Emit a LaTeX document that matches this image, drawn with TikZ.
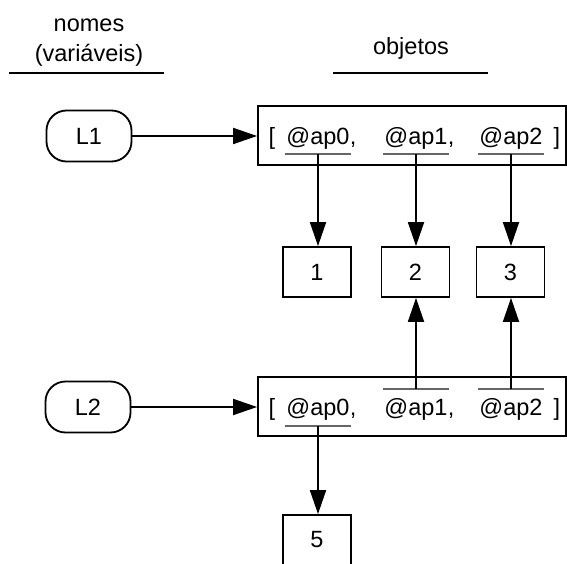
\documentclass[tikz,border=0pt]{standalone}
\usepackage{fontspec}
\setmainfont{Liberation Sans}
\usetikzlibrary{arrows.meta}
\begin{document}
\begin{tikzpicture}[x=1pt,y=-1pt,
  every node/.style={font=\fontsize{23.5}{28}\selectfont},
  txt/.style={inner sep=0pt, anchor=base},
  obj/.style={draw, line width=1.8pt, minimum width=68pt, minimum height=50pt, inner sep=0pt},
  var/.style={draw, line width=1.8pt, rounded corners=20pt, minimum width=85pt, minimum height=51pt, inner sep=0pt},
  lst/.style={draw, line width=1.8pt, inner sep=0pt, minimum width=308pt, minimum height=59pt},
  ptr/.style={line width=1.8pt, -{Triangle[length=24pt,width=16pt]}},
  uline/.style={draw=black!60, line width=1.3pt},
  hline/.style={line width=2.6pt}]
\useasboundingbox (0,0) rectangle (567,564);
% headers
\node[txt] (h1) at (89,32) {nomes};
\node[txt] (h2) at (89,62) {(variáveis)};
\node[txt] (h3) at (411,55) {objetos};
\draw[hline] (9,73) -- (164,73);
\draw[hline] (333,73) -- (488,73);
% variables
\node[var] (L1) at (89,136) {L1};
\node[var] (L2) at (88,407) {L2};
% list 1
\node[lst] (list1) at (412,135.5) {};
\node[txt] (lb1) at (272,145) {[};
\node[txt] (a0) at (318,145) {@ap0};
\node[txt, anchor=base west] at (a0.base east) {,};
\node[txt] (a1) at (416,145) {@ap1};
\node[txt, anchor=base west] at (a1.base east) {,};
\node[txt] (a2) at (511,145) {@ap2};
\node[txt] (rb1) at (557,145) {]};
\coordinate (u0) at (318,154);
\coordinate (u1) at (416,154);
\coordinate (u2) at (511,154);
\draw[uline] ([xshift=-33pt]u0) -- ([xshift=33pt]u0);
\draw[uline] ([xshift=-33pt]u1) -- ([xshift=33pt]u1);
\draw[uline] ([xshift=-33pt]u2) -- ([xshift=33pt]u2);
% objects
\node[obj] (b1) at (317,272) {1};
\node[obj] (b2) at (415.5,272) {2};
\node[obj] (b3) at (510.5,272) {3};
\node[obj] (b5) at (317,540) {5};
% list 2
\node[lst] (list2) at (412,406.5) {};
\node[txt] (lb2) at (272,415) {[};
\node[txt] (c0) at (318,415) {@ap0};
\node[txt, anchor=base west] at (c0.base east) {,};
\node[txt] (c1) at (416,415) {@ap1};
\node[txt, anchor=base west] at (c1.base east) {,};
\node[txt] (c2) at (511,415) {@ap2};
\node[txt] (rb2) at (557,415) {]};
\coordinate (v0) at (318,426);
\coordinate (v1) at (416,389);
\coordinate (v2) at (511,389);
\draw[uline] ([xshift=-33pt]v0) -- ([xshift=33pt]v0);
\draw[uline] ([xshift=-33pt]v1) -- ([xshift=33pt]v1);
\draw[uline] ([xshift=-33pt]v2) -- ([xshift=33pt]v2);
% connectors
\draw[ptr] (L1.east) -- (L1.east -| list1.west);
\draw[ptr] (L2.east) -- (L2.east -| list2.west);
\draw[ptr] (u0) -- (u0 |- b1.north);
\draw[ptr] (u1) -- (u1 |- b2.north);
\draw[ptr] (u2) -- (u2 |- b3.north);
\draw[ptr] (v1) -- (v1 |- b2.south);
\draw[ptr] (v2) -- (v2 |- b3.south);
\draw[ptr] (v0) -- (v0 |- b5.north);
\end{tikzpicture}
\end{document}
